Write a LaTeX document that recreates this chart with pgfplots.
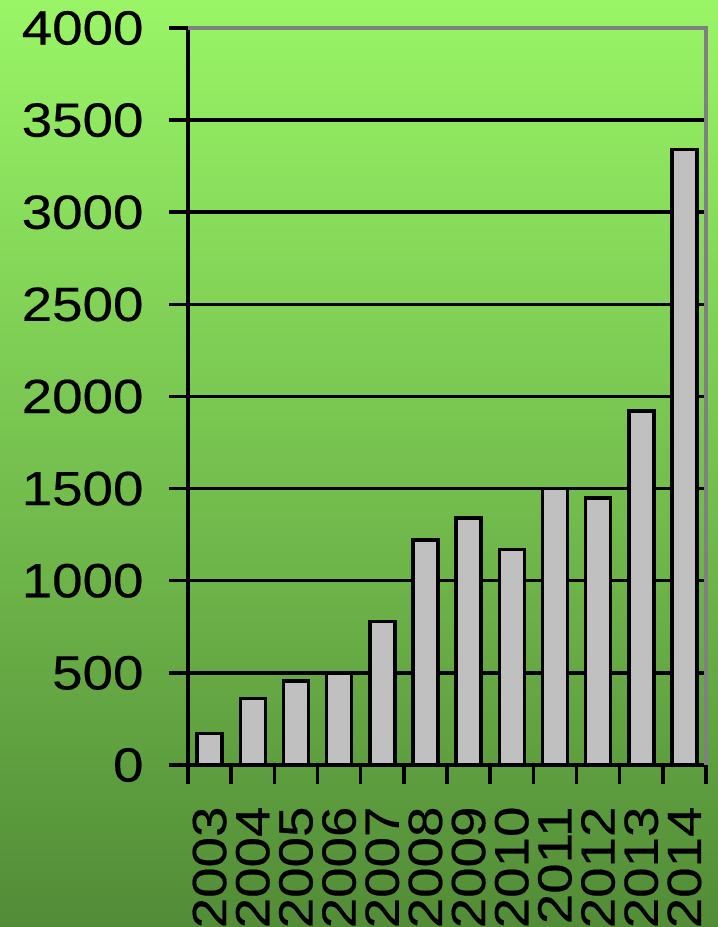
\documentclass[border=0pt]{standalone}
\usepackage{pgfplots}
\pgfplotsset{compat=1.18}
\usepackage{fontspec}
\setmainfont{Liberation Sans}
\newfontfamily\widefont[FakeStretch=1.14, FakeBold=0.4]{Liberation Sans}
\definecolor{bgtop}{RGB}{153,245,102}
\definecolor{bgmid}{RGB}{120,205,85}
\definecolor{bgbot}{RGB}{82,140,55}
\definecolor{barfill}{RGB}{192,192,192}
\definecolor{framegray}{RGB}{128,128,128}
\begin{document}
\begin{tikzpicture}
\shade[top color=bgtop, middle color=bgmid, bottom color=bgbot] (0pt,0pt) rectangle (718pt,927pt);
\begin{axis}[
  at={(188pt,162pt)}, anchor=south west,
  scale only axis, width=518pt, height=737pt,
  xmin=-0.5, xmax=11.5, ymin=0, ymax=4000,
  ytick={0,500,...,4000},
  yticklabels={0,500,1000,1500,2000,2500,3000,3500,4000},
  xtick={-0.5,0.5,...,11.5}, xticklabels={},
  extra x ticks={0,...,11},
  extra x tick labels={2003,2004,2005,2006,2007,2008,2009,2010,2011,2012,2013,2014},
  extra x tick style={major tick length=0pt},
  tick align=outside, major tick length=19pt,
  ymajorgrids, grid style={black, line width=3.5pt},
  axis x line*=bottom, axis y line*=left,
  axis line style={black, line width=3.5pt, -},
  tick style={black, line width=3.5pt},
  yticklabel style={font=\widefont\fontsize{48}{48}\selectfont, anchor=east, xshift=-22pt},
  xticklabel style={font=\widefont\fontsize{48}{48}\selectfont, yshift=-38pt, rotate=90, anchor=east},
  after end axis/.code={\draw[framegray, line width=3.5pt] (rel axis cs:0,1) -- (rel axis cs:1,1) -- (rel axis cs:1,0);},
]
\addplot[ybar, bar width=25pt, fill=barfill, draw=black, line width=3.5pt] coordinates {
(0,170) (1,360) (2,455) (3,500) (4,780) (5,1220) (6,1340) (7,1170) (8,1500) (9,1450) (10,1920) (11,3340)
};
\end{axis}
\pgfresetboundingbox
\path[use as bounding box] (0pt,0pt) rectangle (718pt,927pt);
\end{tikzpicture}
\end{document}
